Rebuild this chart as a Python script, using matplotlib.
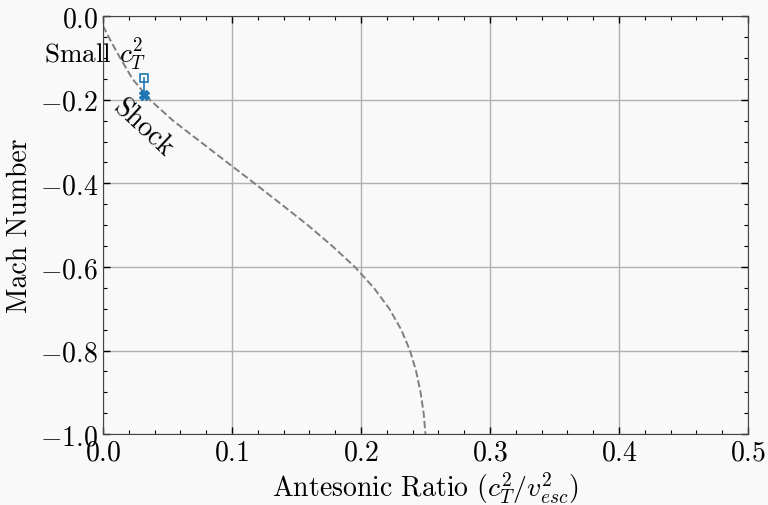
import matplotlib
matplotlib.use("Agg")
import matplotlib.pyplot as plt
from matplotlib.ticker import MultipleLocator

# Antesonic ratio vs Mach number along the shock-free branch
mach_curve = [-0.023, -0.06, -0.10, -0.15, -0.20, -0.25, -0.30, -0.35, -0.40,
              -0.45, -0.50, -0.55, -0.60, -0.65, -0.70, -0.75, -0.80, -0.85,
              -0.90, -0.95, -1.00]
ratio_curve = [0.0, 0.0062, 0.0134, 0.0229, 0.0364, 0.0544, 0.0754, 0.0964,
               0.1175, 0.1383, 0.1588, 0.1778, 0.1953, 0.2100, 0.2220, 0.2312,
               0.2380, 0.2428, 0.2462, 0.2486, 0.2500]

# Small c_T^2 run: pre-shock and post-shock Mach numbers
run_ratio = [0.0318, 0.0318]
run_mach = [-0.148, -0.189]

plt.rcParams['font.family'] = 'serif'
plt.rcParams['font.serif'] = ['cmr10']
plt.rcParams['mathtext.fontset'] = 'cm'
plt.rcParams['axes.formatter.use_mathtext'] = True
plt.rcParams['axes.unicode_minus'] = True

fig, ax = plt.subplots(figsize=(7.68, 5.06), dpi=100)
fig.patch.set_facecolor('#f9f9f9')
ax.set_facecolor('#f9f9f9')
fig.subplots_adjust(left=0.134, right=0.974, top=0.966, bottom=0.140)

ax.plot(ratio_curve, mach_curve, linestyle='--', color='#7f7f7f', linewidth=1.4)

ax.plot(run_ratio, run_mach, color='#1f77b4', linewidth=1.2)
ax.plot(run_ratio[0], run_mach[0], marker='s', markersize=6, markerfacecolor='none',
        markeredgecolor='#1f77b4', markeredgewidth=1.2, linestyle='none')
ax.plot(run_ratio[1], run_mach[1], marker='X', markersize=7, color='#1f77b4',
        linestyle='none')

ax.text(-0.006, -0.09, r'Small $c_T^2$', fontsize=19.5, ha='center', va='center')
ax.text(0.031, -0.266, 'Shock', fontsize=20, ha='center', va='center', rotation=-43)

ax.set_xlim(0.0, 0.5)
ax.set_ylim(-1.0, 0.0)
ax.xaxis.set_major_locator(MultipleLocator(0.1))
ax.xaxis.set_minor_locator(MultipleLocator(0.02))
ax.yaxis.set_major_locator(MultipleLocator(0.2))
ax.yaxis.set_minor_locator(MultipleLocator(0.05))
ax.tick_params(which='both', direction='in', top=True, right=True, labelsize=20)
ax.tick_params(which='major', length=5, width=1)
ax.tick_params(which='minor', length=3, width=0.8)
ax.grid(True, which='major', color='#b0b0b0', linewidth=1)

for spine in ax.spines.values():
    spine.set_color('#444444')

ax.set_xlabel(r'Antesonic Ratio ($c_T^2/v_{esc}^2$)', fontsize=20, labelpad=3)
ax.set_ylabel('Mach Number', fontsize=20, labelpad=5)

plt.savefig('out.png', dpi=100, facecolor=fig.get_facecolor())
